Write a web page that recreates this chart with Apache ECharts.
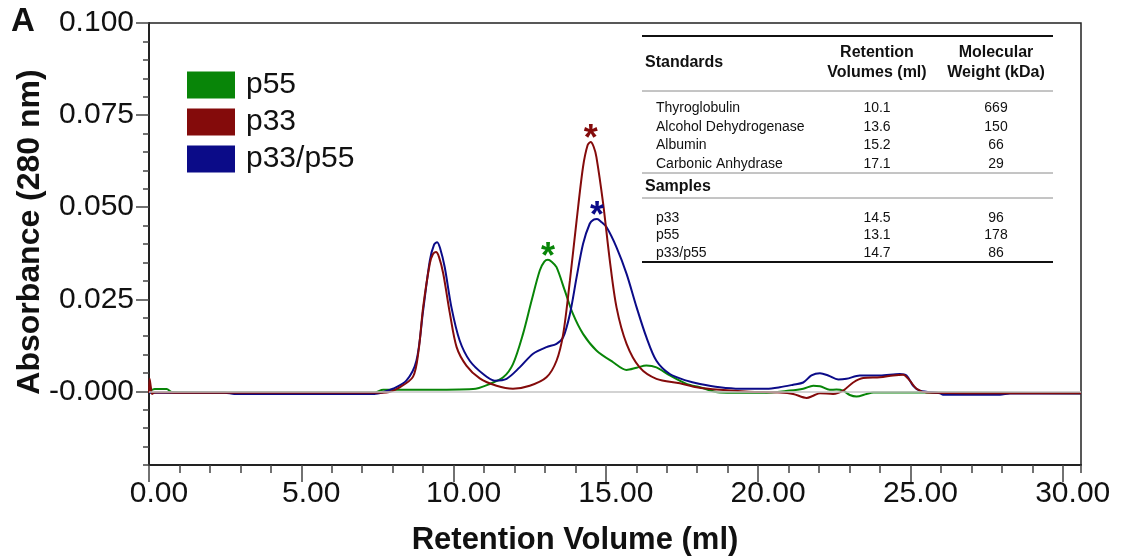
<!DOCTYPE html>
<html>
<head>
<meta charset="utf-8">
<title>Size-exclusion chromatography of p33, p55 and p33/p55</title>
<script src="https://cdn.jsdelivr.net/npm/echarts@6/dist/echarts.min.js"></script>
<style>
  html, body { margin: 0; padding: 0; background: #fff; }
  #chart { width: 1123px; height: 558px; }
</style>
</head>
<body>
<div id="chart"></div>
<script>
// Elution profiles: [retention volume (ml), absorbance at 280 nm]
const p55Trace = [
  [0, -0.0001], [0.19, 0.0006], [0.58, 0.0006], [0.75, -0.0002], [2, -0.0003], [5, -0.0003],
  [7.4, -0.0003], [7.69, 0.0004], [9, 0.0004], [10.64, 0.0006], [11.19, 0.002], [11.63, 0.0038],
  [11.95, 0.0074], [12.28, 0.0156], [12.56, 0.0246], [12.83, 0.0328], [12.98, 0.0352], [13.10, 0.0357],
  [13.22, 0.0352], [13.38, 0.0337], [13.65, 0.0274], [13.92, 0.021], [14.25, 0.0156], [14.69, 0.0111],
  [15.24, 0.0079], [15.68, 0.0058], [16.01, 0.0064], [16.33, 0.007], [16.66, 0.0065], [17.10, 0.0043],
  [17.65, 0.002], [18.09, 0.0011], [18.74, -0.0003], [20.15, -0.0004], [21.04, 0.0002], [21.48, 0.0007],
  [21.81, 0.0015], [22.03, 0.0014], [22.35, 0.0004], [22.57, 0.0005], [22.79, 0.0002], [23.01, -0.001],
  [23.23, -0.0014], [23.56, -0.0007], [23.78, -0.0003], [25.31, -0.0003], [30.6, -0.0005]
];

const p33Trace = [
  [0, -0.0004], [0.02, 0.0034], [0.06, 0.0012], [0.10, -0.0007], [0.19, -0.0003], [1, -0.0004],
  [3, -0.0004], [5, -0.0004], [7, -0.0004], [7.8, -0.0003], [8.23, 0.0011], [8.67, 0.004],
  [8.85, 0.011], [9.00, 0.0228], [9.22, 0.0347], [9.32, 0.0372], [9.42, 0.0378], [9.52, 0.0365],
  [9.66, 0.032], [9.88, 0.0211], [10.10, 0.012], [10.42, 0.007], [10.86, 0.0035], [11.41, 0.0015],
  [11.95, 0.0007], [12.50, 0.0015], [13.05, 0.0038], [13.38, 0.0083], [13.60, 0.0156], [13.82, 0.0301],
  [14.04, 0.0464], [14.25, 0.0609], [14.40, 0.0668], [14.50, 0.0677], [14.60, 0.0664], [14.69, 0.0636],
  [14.91, 0.051], [15.13, 0.0355], [15.35, 0.0228], [15.68, 0.0129], [16.11, 0.0065], [16.66, 0.0034],
  [17.43, 0.0022], [17.98, 0.0011], [18.74, 0.0004], [19.7, -0.0001], [20.71, -0.0003], [21.15, -0.0007],
  [21.59, -0.0018], [21.81, -0.0012], [22.03, -0.0005], [22.46, -0.0007], [22.79, 0.0002], [23.12, 0.0024],
  [23.45, 0.0036], [24.00, 0.0038], [24.43, 0.0043], [24.76, 0.0045], [24.98, 0.0029], [25.20, 0.0007],
  [25.53, -0.0003], [28, -0.0005], [30.6, -0.0005]
];

const p33p55Trace = [
  [0, -0.0004], [2.5, -0.0004], [2.8, -0.0007], [7.4, -0.0007], [7.7, -0.0002], [8.01, 0.0007],
  [8.45, 0.0029], [8.78, 0.0083], [9.00, 0.0219], [9.22, 0.0355], [9.36, 0.0398], [9.46, 0.0405],
  [9.56, 0.0388], [9.71, 0.0337], [9.93, 0.0228], [10.20, 0.0138], [10.53, 0.0083], [10.97, 0.0047],
  [11.35, 0.0029], [11.74, 0.0034], [12.17, 0.0065], [12.61, 0.0102], [13.05, 0.012], [13.38, 0.0129],
  [13.60, 0.0147], [13.82, 0.021], [14.04, 0.031], [14.25, 0.04], [14.47, 0.0455], [14.60, 0.0466],
  [14.71, 0.0468], [14.85, 0.046], [15.02, 0.0446], [15.35, 0.0391], [15.68, 0.0319], [16.01, 0.0228],
  [16.33, 0.0147], [16.66, 0.0083], [17.10, 0.0047], [17.65, 0.0029], [18.09, 0.002], [18.74, 0.0011],
  [19.40, 0.0007], [20.28, 0.0007], [20.71, 0.0011], [21.15, 0.0018], [21.48, 0.0024], [21.75, 0.0043],
  [22.03, 0.0049], [22.30, 0.0043], [22.63, 0.0032], [22.90, 0.0034], [23.34, 0.0043], [24.00, 0.0043],
  [24.65, 0.0047], [24.87, 0.0043], [25.09, 0.0015], [25.31, 0.0002], [25.97, -0.0005], [26.07, -0.0009],
  [27.94, -0.0009], [28.27, -0.0006], [30.6, -0.0006]
];

// Axis ticks and labels
const volumeTicks = [0, 5, 10, 15, 20, 25, 30];
const absorbanceTicks = [0, 0.025, 0.05, 0.075, 0.1];
const absorbanceTickLabels = ['-0.000', '0.025', '0.050', '0.075', '0.100'];

// Calibration table
const tableHeaders = ['Standards', 'Retention', 'Volumes (ml)', 'Molecular', 'Weight (kDa)', 'Samples'];
const standardNames = ['Thyroglobulin', 'Alcohol Dehydrogenase', 'Albumin', 'Carbonic Anhydrase'];
const standardVolumes = ['10.1', '13.6', '15.2', '17.1'];
const standardWeights = ['669', '150', '66', '29'];
const sampleNames = ['p33', 'p55', 'p33/p55'];
const sampleVolumes = ['14.5', '13.1', '14.7'];
const sampleWeights = ['96', '178', '86'];

const FONT = '"Liberation Sans", Arial, Helvetica, sans-serif';
const COLORS = { p55: '#088508', p33: '#840b0b', p33p55: '#0b0b88' };

function peakOf(trace) {
  return trace.reduce((best, p) => (p[1] > best[1] ? p : best), trace[0]);
}

function asteriskMark(trace, color) {
  return {
    symbol: 'circle',
    symbolSize: 1,
    itemStyle: { color: 'rgba(0,0,0,0)' },
    silent: true,
    data: [{ coord: peakOf(trace) }],
    label: {
      show: true, formatter: '*', position: 'inside', offset: [0, -2],
      color: color, fontSize: 36, fontWeight: 'bold', fontFamily: FONT
    }
  };
}

// Table drawn as graphic text and rules
const tableElements = [];
const colName = 656, colVol = 877, colMw = 996, ruleL = 642, ruleR = 1053;
function txt(s, x, y, opts) {
  tableElements.push({
    type: 'text', x: x, y: y, silent: true,
    style: Object.assign({
      text: s, fill: '#111', font: '14px ' + FONT,
      textAlign: 'left', align: 'left', textVerticalAlign: 'middle', verticalAlign: 'middle'
    }, opts || {})
  });
}
function rule(y, w, color) {
  tableElements.push({
    type: 'line', silent: true,
    shape: { x1: ruleL, y1: y, x2: ruleR, y2: y },
    style: { stroke: color, lineWidth: w }
  });
}
const boldHead = { font: 'bold 16px ' + FONT };
const centerHead = { font: 'bold 16px ' + FONT, textAlign: 'center', align: 'center' };
const center = { textAlign: 'center', align: 'center' };
rule(36, 2, '#111');
txt(tableHeaders[0], 645, 63, boldHead);
txt(tableHeaders[1], colVol, 53, centerHead);
txt(tableHeaders[2], colVol, 73, centerHead);
txt(tableHeaders[3], colMw, 53, centerHead);
txt(tableHeaders[4], colMw, 73, centerHead);
rule(91, 1, '#8a8a8a');
standardNames.forEach((n, i) => {
  const y = 108 + i * 18.7;
  txt(n, colName, y);
  txt(standardVolumes[i], colVol, y, center);
  txt(standardWeights[i], colMw, y, center);
});
rule(173, 1, '#8a8a8a');
txt(tableHeaders[5], 645, 187, boldHead);
rule(198, 1, '#8a8a8a');
sampleNames.forEach((n, i) => {
  const y = 218 + i * 17.5;
  txt(n, colName, y);
  txt(sampleVolumes[i], colVol, y, center);
  txt(sampleWeights[i], colMw, y, center);
});
rule(262, 2, '#111');

const chart = echarts.init(document.getElementById('chart'), null, { renderer: 'canvas' });

const axisLineStyle = { color: '#222', width: 2 };

chart.setOption({
  animation: false,
  backgroundColor: '#fff',
  grid: {
    left: 149, top: 23, right: 42, bottom: 93,
    show: true, borderColor: '#222', borderWidth: 1.5, backgroundColor: 'transparent'
  },
  legend: {
    data: ['p55', 'p33', 'p33/p55'],
    orient: 'vertical', left: 182, top: 65,
    icon: 'rect', itemWidth: 48, itemHeight: 27, itemGap: 7,
    textStyle: { fontSize: 30, fontFamily: FONT, color: '#111', lineHeight: 27, padding: [0, 0, 0, 6] },
    selectedMode: false
  },
  xAxis: [
    {
      type: 'value', min: 0, max: 30.6, interval: 1,
      axisLine: { show: true, onZero: false, lineStyle: axisLineStyle },
      axisTick: { show: true, length: 8, lineStyle: { color: '#444', width: 1.5 } },
      axisLabel: {
        customValues: volumeTicks, fontSize: 30, fontFamily: FONT, color: '#111', margin: 14,
        padding: [0, 0, 0, 20],
        formatter: v => v.toFixed(2)
      },
      splitLine: { show: false }
    },
    {
      type: 'value', min: 0, max: 30.6, position: 'bottom', interval: 1,
      axisLine: { show: false, onZero: false },
      axisTick: { show: true, customValues: volumeTicks, length: 17, lineStyle: { color: '#444', width: 1.5 } },
      axisLabel: { show: false },
      splitLine: { show: false }
    }
  ],
  yAxis: [
    {
      type: 'value', min: -0.02, max: 0.1, interval: 0.005,
      axisLine: { show: true, onZero: false, lineStyle: axisLineStyle },
      axisTick: { show: true, length: 6, lineStyle: { color: '#444', width: 1.5 } },
      axisLabel: {
        customValues: absorbanceTicks, fontSize: 30, fontFamily: FONT, color: '#111', margin: 15,
        formatter: v => absorbanceTickLabels[Math.round(v / 0.025)]
      },
      splitLine: { show: false }
    },
    {
      type: 'value', min: -0.02, max: 0.1, interval: 0.005, position: 'left',
      axisLine: { show: false, onZero: false },
      axisTick: { show: true, customValues: absorbanceTicks, length: 13, lineStyle: { color: '#444', width: 1.5 } },
      axisLabel: { show: false },
      splitLine: { show: false }
    }
  ],
  graphic: [
    {
      type: 'text', x: 23, y: 22, silent: true,
      style: { text: 'A', font: 'bold 33px ' + FONT, fill: '#111', textAlign: 'center', align: 'center', textVerticalAlign: 'middle', verticalAlign: 'middle' }
    },
    {
      type: 'text', x: 30, y: 232, rotation: Math.PI / 2, silent: true,
      style: { text: 'Absorbance (280 nm)', font: 'bold 32px ' + FONT, fill: '#111', textAlign: 'center', align: 'center', textVerticalAlign: 'middle', verticalAlign: 'middle' }
    },
    {
      type: 'text', x: 575, y: 540, silent: true,
      style: { text: 'Retention Volume (ml)', font: 'bold 31px ' + FONT, fill: '#111', textAlign: 'center', align: 'center', textVerticalAlign: 'middle', verticalAlign: 'middle' }
    }
  ].concat(tableElements),
  series: [
    {
      name: 'p55', type: 'line', data: p55Trace, showSymbol: false, smooth: 0.3,
      color: COLORS.p55, lineStyle: { width: 2, color: COLORS.p55 },
      markLine: {
        silent: true, symbol: 'none', label: { show: false },
        lineStyle: { color: '#c4c4c4', width: 1.5, type: 'solid' },
        data: [{ yAxis: 0 }]
      },
      markPoint: asteriskMark(p55Trace, COLORS.p55)
    },
    {
      name: 'p33/p55', type: 'line', data: p33p55Trace, showSymbol: false, smooth: 0.3,
      color: COLORS.p33p55, lineStyle: { width: 2, color: COLORS.p33p55 },
      markPoint: asteriskMark(p33p55Trace, COLORS.p33p55)
    },
    {
      name: 'p33', type: 'line', data: p33Trace, showSymbol: false, smooth: 0.3,
      color: COLORS.p33, lineStyle: { width: 2, color: COLORS.p33 },
      markPoint: asteriskMark(p33Trace, COLORS.p33)
    }
  ]
});
</script>
</body>
</html>
